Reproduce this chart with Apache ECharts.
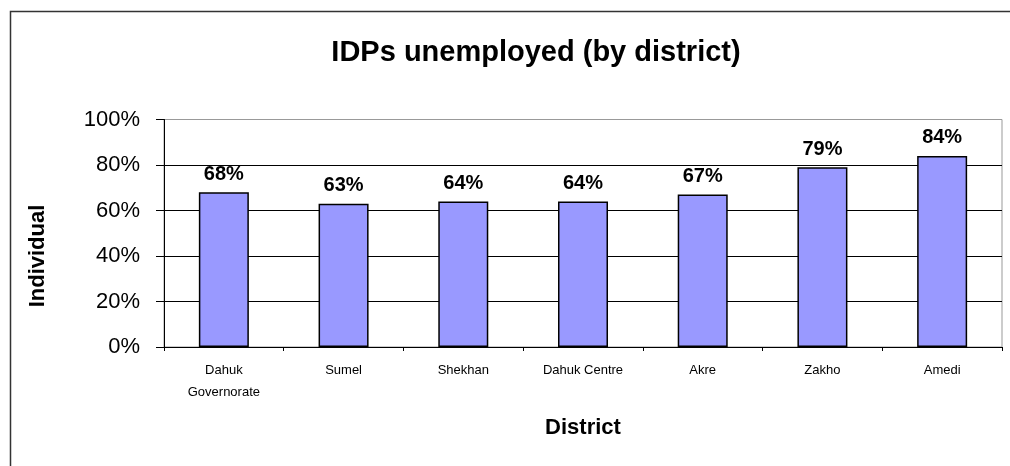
<!DOCTYPE html>
<html><head><meta charset="utf-8">
<script src="https://cdn.jsdelivr.net/npm/echarts@6/dist/echarts.min.js"></script>
<style>html,body{margin:0;padding:0;background:#fff}#c{width:1010px;height:466px}</style>
</head><body><div id="c"></div>
<script>
const categories = ['Dahuk\nGovernorate', 'Sumel', 'Shekhan', 'Dahuk Centre', 'Akre', 'Zakho', 'Amedi'];
const values = [68, 63, 64, 64, 67, 79, 84];
const yTicks = [0, 20, 40, 60, 80, 100];
const titleText = 'IDPs unemployed (by district)';
const F = 'Liberation Sans, Arial, sans-serif';
const chart = echarts.init(document.getElementById('c'));
chart.setOption({
  animation: false,
  backgroundColor: '#fff',
  title: { text: titleText, left: 531, top: 33, textAlign: 'center',
    textStyle: { fontFamily: F, fontSize: 29, fontWeight: 'bold', color: '#000' } },
  graphic: [
    { type: 'rect', shape: { x: 10.5, y: 11.5, width: 1010, height: 470 }, style: { fill: 'none', stroke: '#333', lineWidth: 1.5 } },
    { type: 'rect', shape: { x: 164, y: 119.5, width: 838, height: 227.5 }, style: { fill: 'none', stroke: '#999', lineWidth: 1 }, z: -1 },
    { type: 'text', x: 38, y: 256, rotation: Math.PI / 2,
      style: { text: 'Individual', font: 'bold 22px ' + F, fill: '#000', align: 'center', verticalAlign: 'middle' } }
  ],
  grid: { left: 164, right: 8, top: 119.5, bottom: 119 },
  xAxis: {
    type: 'category', data: categories,
    name: 'District', nameLocation: 'middle', nameGap: 70,
    nameTextStyle: { fontFamily: F, fontSize: 22, fontWeight: 'bold', color: '#000' },
    axisLine: { lineStyle: { color: '#000', width: 1 } },
    axisTick: { show: true, length: 4, lineStyle: { color: '#000' } },
    axisLabel: { fontFamily: F, fontSize: 13, color: '#000', margin: 12, lineHeight: 22, interval: 0 }
  },
  yAxis: {
    type: 'value', min: 0, max: 100, interval: 20,
    axisLine: { show: true, lineStyle: { color: '#000', width: 1 } },
    axisTick: { show: true, inside: false, length: 8, lineStyle: { color: '#000' } },
    axisLabel: { fontFamily: F, fontSize: 22, color: '#000', margin: 24,
      formatter: v => yTicks.includes(v) ? v + '%' : '' },
    splitLine: { show: true, lineStyle: { color: ['#000', '#000', '#000', '#000', '#000', '#999'], width: 1 } }
  },
  series: [{
    type: 'bar', data: values, barWidth: 50,
    itemStyle: { color: '#9999FF', borderColor: '#000', borderWidth: 1.5 },
    label: { show: true, position: 'top', distance: 8, formatter: p => p.value + '%',
      fontFamily: F, fontSize: 20, fontWeight: 'bold', color: '#000' }
  }]
});
</script></body></html>
